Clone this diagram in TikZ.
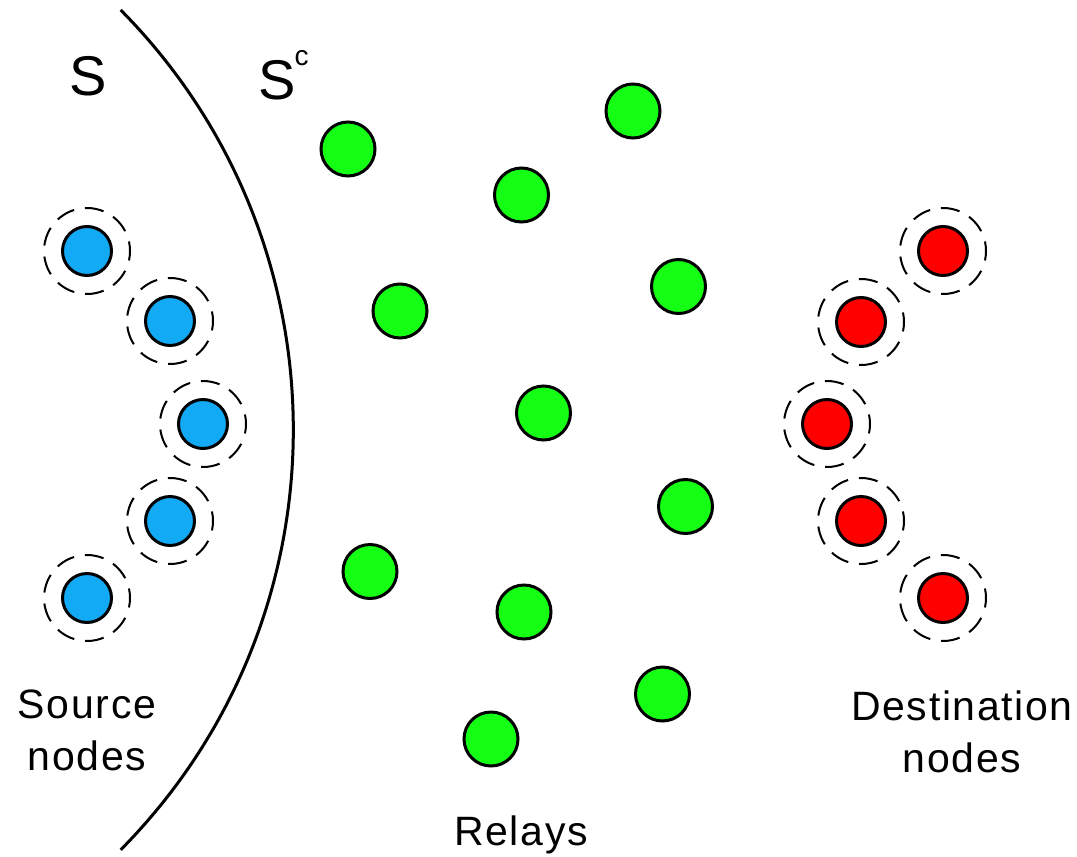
\documentclass[tikz,border=0pt]{standalone}
\usepackage{fontspec}
\setmainfont{Liberation Sans}
\definecolor{srcblue}{RGB}{18,170,245}
\definecolor{relaygreen}{RGB}{20,255,20}
\definecolor{dstred}{RGB}{255,0,0}
\begin{document}
\begin{tikzpicture}[x=1pt,y=-1pt,
  peer/.style={circle, draw=black, line width=3pt, inner sep=0pt},
  srcnode/.style={peer, fill=srcblue, minimum size=49pt},
  dstnode/.style={peer, fill=dstred, minimum size=49pt},
  relay/.style={peer, fill=relaygreen, minimum size=54pt},
  ring/.style={line width=2pt, dash pattern=on 19pt off 11pt, dash phase=9.5pt},
  cut/.style={line width=3pt},
  lbl/.style={font=\fontsize{41}{52}\selectfont\addfontfeature{LetterSpace=4}, align=center, inner sep=0pt}
]
\useasboundingbox (0,0) rectangle (1077,857);

% the cut separating S from its complement
\draw[cut] (120.7,10) arc[start angle=-44.7, end angle=44.7, radius=597];

\node[font=\fontsize{56}{60}\selectfont, inner sep=0pt] (setS) at (88,76) {S};
\node[font=\fontsize{56}{60}\selectfont, inner sep=0pt, anchor=base west] (setSc) at (258,99)
  {S\kern-1pt\raisebox{34pt}{\fontsize{28}{30}\selectfont c}};

% source nodes
\foreach \n/\x/\y in {s1/87/251, s2/170/321, s3/203/424, s4/170/521, s5/87/598}{
  \node[srcnode] (\n) at (\x,\y) {};
  \draw[ring] (\n) circle[radius=43];
}

% destination nodes
\foreach \n/\x/\y in {d1/943/251, d2/861/322, d3/827/424, d4/861/521, d5/943/598}{
  \node[dstnode] (\n) at (\x,\y) {};
  \draw[ring] (\n) circle[radius=43];
}

% relays
\foreach \n/\x/\y in {r1/348/149, r2/633/111, r3/521.5/195, r4/400/311, r5/678.5/286.5,
                     r6/543.5/413, r7/685.5/506.5, r8/370/571.5, r9/524/612,
                     r10/662.5/694, r11/491/739}{
  \node[relay] (\n) at (\x,\y) {};
}

\node[lbl, anchor=base] (srclbl) at (87,770) {Source\\nodes};
\node[lbl, anchor=base] (dstlbl) at (962,772) {Destination\\nodes};
\node[lbl, anchor=base] (rlbl) at (521,845) {Relays};
\end{tikzpicture}
\end{document}
